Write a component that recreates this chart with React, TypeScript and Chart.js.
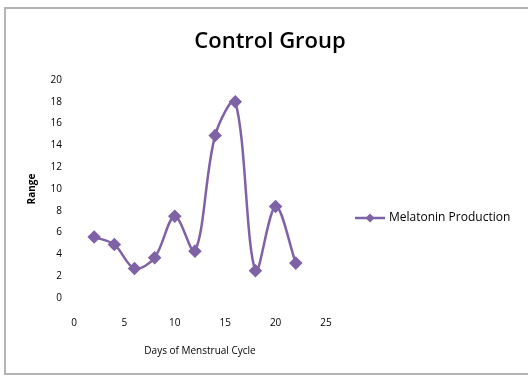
import React, { useEffect, useRef } from "react";
import { Chart, registerables } from "chart.js";

Chart.register(...registerables);

const days = [2, 4, 6, 8, 10, 12, 14, 16, 18, 20, 22];
const values = [5.6, 4.9, 2.7, 3.7, 7.5, 4.3, 14.9, 18.0, 2.5, 8.4, 3.2];
const seriesName = "Melatonin Production";
const chartTitle = "Control Group";
const xTitle = "Days of Menstrual Cycle";
const yTitle = "Range";

const PURPLE = "#7f62a6";
const FONT = "'Open Sans', 'Liberation Sans', sans-serif";

const decorPlugin = {
  id: "excelDecor",
  afterDraw(chart: any) {
    const ctx = chart.ctx;
    const ds = chart.data.datasets[0];
    const area = chart.chartArea;
    ctx.save();
    // title
    ctx.fillStyle = "#000";
    ctx.font = `600 22px ${FONT}`;
    ctx.textAlign = "center";
    ctx.textBaseline = "middle";
    ctx.fillText(chartTitle, 270, 42);
    // legend
    const x0 = area.right + 29;
    const y = 218;
    ctx.strokeStyle = ds.borderColor;
    ctx.lineWidth = 2.5;
    ctx.beginPath();
    ctx.moveTo(x0, y);
    ctx.lineTo(x0 + 30, y);
    ctx.stroke();
    ctx.fillStyle = ds.borderColor;
    ctx.beginPath();
    ctx.moveTo(x0 + 15, y - 4.5);
    ctx.lineTo(x0 + 19.5, y);
    ctx.lineTo(x0 + 15, y + 4.5);
    ctx.lineTo(x0 + 10.5, y);
    ctx.closePath();
    ctx.fill();
    ctx.fillStyle = "#000";
    ctx.font = `12px ${FONT}`;
    ctx.textAlign = "left";
    ctx.fillText(ds.label, x0 + 34, y);
    ctx.restore();
  },
};

export default function App() {
  const ref = useRef<HTMLCanvasElement | null>(null);

  useEffect(() => {
    if (!ref.current) return;
    const chart = new Chart(ref.current, {
      type: "line",
      data: {
        datasets: [
          {
            label: seriesName,
            data: days.map((d, i) => ({ x: d, y: values[i] })),
            borderColor: PURPLE,
            backgroundColor: PURPLE,
            borderWidth: 2.5,
            tension: 0.33,
            pointStyle: "rectRot",
            pointRadius: 5,
            pointBackgroundColor: PURPLE,
            pointBorderColor: PURPLE,
          },
        ],
      },
      plugins: [decorPlugin],
      options: {
        animation: false,
        responsive: false,
        layout: { padding: { left: 22, right: 202, top: 80, bottom: 17 } },
        plugins: {
          tooltip: { enabled: false },
          legend: { display: false },
          title: { display: false },
        },
        scales: {
          x: {
            type: "linear",
            min: 0,
            max: 25,
            ticks: { stepSize: 5, color: "#000", font: { family: FONT, size: 10 }, padding: 19 },
            grid: { display: false, drawTicks: false },
            border: { display: false },
            title: { display: true, text: xTitle, color: "#000", font: { family: FONT, size: 10 } },
            afterFit: (s: any) => {
              s.height = 63;
            },
          },
          y: {
            min: 0,
            max: 20,
            ticks: { stepSize: 2, color: "#000", font: { family: FONT, size: 10 }, padding: 12 },
            grid: { display: false, drawTicks: false },
            border: { display: false },
            title: { display: true, text: yTitle, color: "#000", font: { family: FONT, size: 10, weight: "bold" } },
            afterFit: (s: any) => {
              s.width = 52;
            },
          },
        },
      },
    });
    return () => chart.destroy();
  }, []);

  return (
    <div style={{ position: "fixed", left: 0, top: 0, width: 528, height: 378, background: "#fff" }}>
      <canvas ref={ref} width={528} height={378} style={{ position: "absolute", left: 0, top: 0 }} />
      <div
        style={{
          position: "absolute",
          left: 4,
          top: 7,
          width: 540,
          height: 368,
          border: "2px solid #b4b4b4",
          boxSizing: "border-box",
          pointerEvents: "none",
        }}
      />
    </div>
  );
}
